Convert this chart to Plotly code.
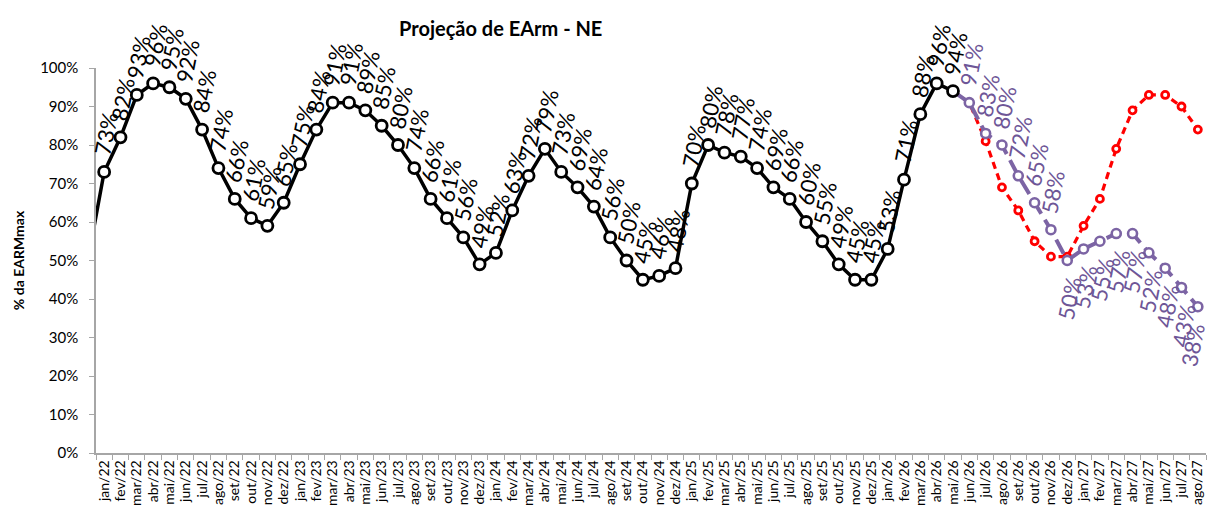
import plotly.graph_objects as go

# Month categories (dez/21 only feeds the first line segment; the axis starts at jan/22)
months = ["dez/21"] + [f"{m}/{y}" for y in ["22", "23", "24", "25", "26", "27"]
                       for m in ["jan", "fev", "mar", "abr", "mai", "jun", "jul", "ago",
                                 "set", "out", "nov", "dez"]]
months = months[:69]  # through ago/27

# Verified stored energy (% of EARMmax), dez/21 .. mai/26
hist_vals = [50,
             73, 82, 93, 96, 95, 92, 84, 74, 66, 61, 59, 65,
             75, 84, 91, 91, 89, 85, 80, 74, 66, 61, 56, 49,
             52, 63, 72, 79, 73, 69, 64, 56, 50, 45, 46, 48,
             70, 80, 78, 77, 74, 69, 66, 60, 55, 49, 45, 45,
             53, 71, 88, 96, 94]
hist_months = months[:len(hist_vals)]

# Projection scenario 1 (purple), mai/26 .. ago/27
proj1_months = months[53:69]
proj1_vals = [94, 91, 83, 80, 72, 65, 58, 50, 53, 55, 57, 57, 52, 48, 43, 38]

# Projection scenario 2 (red), mai/26 .. ago/27
proj2_months = months[53:69]
proj2_vals = [94, 91, 81, 69, 63, 55, 51, 51, 59, 66, 79, 89, 93, 93, 90, 84]

BLACK = "#000000"
PURPLE = "#7C64A4"
PURPLE_TXT = "#6E5697"
RED = "#FF0000"
FONT = "Lato"
LABEL_ANGLE = -79
LABEL_SIZE = 22

fig = go.Figure()

fig.add_trace(go.Scatter(
    x=proj2_months, y=[v / 100 for v in proj2_vals], mode="lines+markers",
    line=dict(color=RED, width=3.2, dash="7px,5px"),
    marker=dict(symbol="circle", size=7, color="white", line=dict(color=RED, width=2.8)),
    hoverinfo="skip", showlegend=False))

fig.add_trace(go.Scatter(
    x=proj1_months, y=[v / 100 for v in proj1_vals], mode="lines+markers",
    line=dict(color=PURPLE, width=4, dash="16px,7px"),
    marker=dict(symbol="circle", size=9, color="white", line=dict(color=PURPLE, width=2.6)),
    hoverinfo="skip", showlegend=False))

fig.add_trace(go.Scatter(
    x=hist_months, y=[v / 100 for v in hist_vals], mode="lines+markers",
    line=dict(color=BLACK, width=3.5),
    marker=dict(symbol="circle", size=11, color="white", line=dict(color=BLACK, width=2.8)),
    hoverinfo="skip", showlegend=False))

annotations = []
# Value labels for the verified series (skip dez/21, outside the axis)
for m, v in zip(hist_months[1:], hist_vals[1:]):
    annotations.append(dict(
        x=m, y=v / 100, xref="x", yref="y", text=f"{v}%", showarrow=False,
        textangle=LABEL_ANGLE, xanchor="center", yanchor="middle", yshift=38, xshift=2,
        font=dict(family=FONT, size=LABEL_SIZE, color=BLACK)))

# Value labels for the purple projection: above while falling, below afterwards
last = len(proj1_vals) - 1
for i, (m, v) in enumerate(zip(proj1_months, proj1_vals)):
    if i == 0:
        continue
    above = i <= 6
    annotations.append(dict(
        x=m, y=v / 100, xref="x", yref="y", text=f"{v}%", showarrow=False,
        textangle=LABEL_ANGLE, xanchor="center", yanchor="middle",
        yshift=38 if above else -38, xshift=2 if i < last else -5,
        font=dict(family=FONT, size=LABEL_SIZE, color=PURPLE_TXT)))

annotations.append(dict(
    x=(500 - 96) / (1209 - 96 - 3), y=1 + (68 - 28) / (518 - 68 - 65),
    xref="paper", yref="paper", text="<b>Projeção de EArm - NE</b>",
    showarrow=False, font=dict(family=FONT, size=20, color="#000000"),
    xanchor="center", yanchor="middle"))

fig.update_layout(
    width=1209, height=518,
    margin=dict(l=96, r=3, t=68, b=65),
    paper_bgcolor="white", plot_bgcolor="white",
    font=dict(family=FONT, color="#000000"),
    annotations=annotations,
    showlegend=False,
)

fig.update_xaxes(
    type="category", categoryorder="array", categoryarray=months,
    range=[0.5, 68.5], tickson="boundaries",
    tickmode="array", tickvals=months[1:], ticktext=months[1:],
    tickangle=-90, tickfont=dict(family=FONT, size=14, color="#000000"),
    showline=True, linecolor="#A6A6A6", linewidth=1.5,
    ticks="outside", ticklen=5, tickcolor="#A6A6A6",
    showgrid=False, zeroline=False,
)
fig.update_yaxes(
    range=[0, 1], tickvals=[i / 10 for i in range(11)],
    ticktext=[f"{i * 10}%" for i in range(11)],
    tickfont=dict(family=FONT, size=15, color="#000000"),
    showline=True, linecolor="#A6A6A6", linewidth=1.5,
    ticks="outside", ticklen=5, tickcolor="#A6A6A6", ticklabelstandoff=8,
    showgrid=False, zeroline=False,
    title=dict(text="<b>% da EARMmax</b>", font=dict(family=FONT, size=14), standoff=12),
)

fig.write_html("out.html")
